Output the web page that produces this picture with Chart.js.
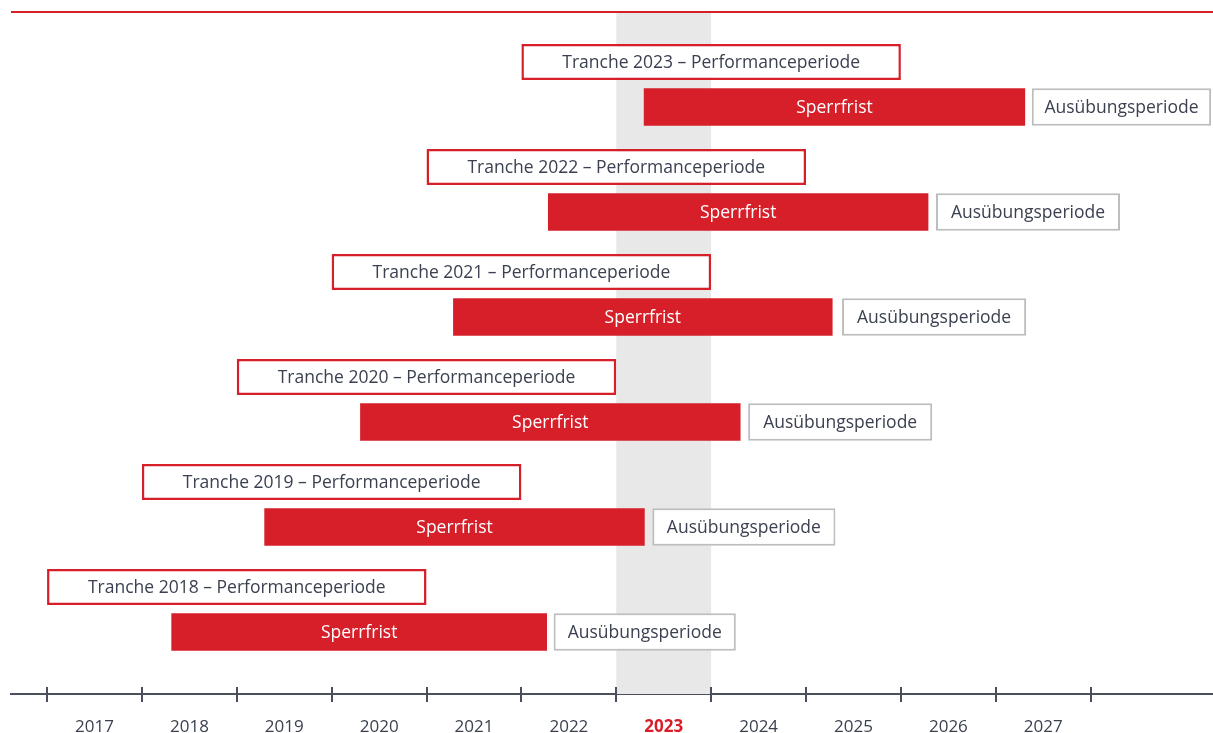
<!DOCTYPE html>
<html lang="de">
<head>
<meta charset="utf-8">
<title>Tranchen – Performanceperiode, Sperrfrist, Ausübungsperiode</title>
<script src="https://cdn.jsdelivr.net/npm/chart.js@4.4.1/dist/chart.umd.min.js"></script>
<style>
  html, body { margin: 0; padding: 0; background: #fff; }
  #wrap { width: 1213px; height: 733px; position: relative; }
</style>
</head>
<body>
<div id="wrap"><canvas id="chart"></canvas></div>
<script>
// Tranches, top to bottom
const trancheYears = [2023, 2022, 2021, 2020, 2019, 2018];

// Performance period (years, start/end)
const perfStart = [2022, 2021, 2020, 2019, 2018, 2017];
const perfEnd   = [2026, 2025, 2024, 2023, 2022, 2021];

// Sperrfrist (lock-up)
const lockStart = [2023.29, 2022.28, 2021.28, 2020.30, 2019.29, 2018.31];
const lockEnd   = [2027.31, 2026.29, 2025.28, 2024.31, 2023.30, 2022.27];

// Ausübungsperiode (exercise)
const exStart = [2027.38, 2026.37, 2025.38, 2024.39, 2023.38, 2022.34];
const exEnd   = [2029.27, 2028.31, 2027.32, 2026.33, 2025.31, 2024.26];

// x axis
const axisYears = [2017, 2018, 2019, 2020, 2021, 2022, 2023, 2024, 2025, 2026, 2027, 2028];
const currentYear = 2023;

const perfLabels = trancheYears.map(y => 'Tranche ' + y + ' – Performanceperiode');
const lockLabel = 'Sperrfrist';
const exLabel = 'Ausübungsperiode';

const RED = '#d71f2a';
const TEXT = '#3b4150';
const AXIS = '#4a4f5b';
const FONT = '"Open Sans", "Noto Sans", sans-serif';

const toRows = (starts, ends) => starts.map((s, i) => ({ x: [s, ends[i]], y: i }));

// gray band for current year + red top rule
const backdrop = {
  id: 'backdrop',
  beforeDatasetsDraw(chart) {
    const { ctx, chartArea: a, scales: { x } } = chart;
    const x0 = x.getPixelForValue(currentYear);
    const x1 = x.getPixelForValue(currentYear + 1);
    ctx.save();
    ctx.fillStyle = '#e8e8e8';
    ctx.fillRect(x0, a.top, x1 - x0, a.bottom - a.top);
    ctx.strokeStyle = RED;
    ctx.lineWidth = 1.8;
    ctx.beginPath();
    ctx.moveTo(a.left, a.top);
    ctx.lineTo(a.right, a.top);
    ctx.stroke();
    ctx.restore();
  },
  afterDraw(chart) {
    // tick marks also reach above the axis line
    const { ctx, chartArea: a, scales: { x } } = chart;
    ctx.save();
    ctx.strokeStyle = AXIS;
    ctx.lineWidth = 2;
    axisYears.forEach(v => {
      const px = Math.round(x.getPixelForValue(v));
      ctx.beginPath();
      ctx.moveTo(px, a.bottom - 7);
      ctx.lineTo(px, a.bottom);
      ctx.stroke();
    });
    ctx.restore();
  }
};

// text inside the bars
const barText = {
  id: 'barText',
  afterDatasetsDraw(chart) {
    const { ctx } = chart;
    ctx.save();
    ctx.font = '17.5px ' + FONT;
    ctx.textAlign = 'center';
    ctx.textBaseline = 'middle';
    chart.data.datasets.forEach((ds, di) => {
      chart.getDatasetMeta(di).data.forEach((el, i) => {
        const cx = (el.x + el.base) / 2;
        ctx.fillStyle = ds.textColor;
        ctx.fillText(ds.texts[i], cx, el.y + 1);
      });
    });
    ctx.restore();
  }
};

new Chart(document.getElementById('chart'), {
  type: 'bar',
  data: {
    datasets: [
      {
        label: 'Performanceperiode',
        data: toRows(perfStart, perfEnd),
        stack: 'perf',
        backgroundColor: '#ffffff',
        borderColor: RED,
        borderWidth: 2.5,
        borderSkipped: false,
        barPercentage: 0.8,
        texts: perfLabels,
        textColor: TEXT
      },
      {
        label: 'Sperrfrist',
        data: toRows(lockStart, lockEnd),
        stack: 'lock',
        backgroundColor: RED,
        borderWidth: 0,
        barPercentage: 0.834,
        texts: trancheYears.map(() => lockLabel),
        textColor: '#ffffff'
      },
      {
        label: 'Ausübungsperiode',
        data: toRows(exStart, exEnd),
        stack: 'lock',
        backgroundColor: '#ffffff',
        borderColor: '#bdbdbd',
        borderWidth: 2,
        borderSkipped: false,
        barPercentage: 0.834,
        texts: trancheYears.map(() => exLabel),
        textColor: TEXT
      }
    ]
  },
  options: {
    indexAxis: 'y',
    responsive: true,
    maintainAspectRatio: false,
    animation: false,
    layout: { padding: { top: 12, left: 11, right: 0, bottom: 0 } },
    datasets: { bar: { categoryPercentage: 0.857 } },
    plugins: {
      legend: { display: false },
      tooltip: { enabled: false }
    },
    scales: {
      x: {
        type: 'linear',
        min: 2016.62,
        max: 2029.29,
        stacked: false,
        afterBuildTicks: (scale) => { scale.ticks = axisYears.map(v => ({ value: v })); },
        afterFit: (scale) => { scale.height = 39; },
        border: { display: true, color: AXIS, width: 2 },
        grid: { drawOnChartArea: false, drawTicks: true, tickLength: 8, color: AXIS, lineWidth: 2 },
        ticks: {
          autoSkip: false,
          maxRotation: 0,
          padding: 15,
          labelOffset: 47.5,
          callback: (v) => (v < 2028 ? String(v) : ''),
          color: (c) => (c.tick && c.tick.value === currentYear ? RED : TEXT),
          font: (c) => ({
            family: FONT,
            size: 17,
            weight: c.tick && c.tick.value === currentYear ? 'bold' : 'normal'
          })
        }
      },
      y: {
        type: 'linear',
        reverse: true,
        offset: false,
        min: -0.69,
        max: 5.805,
        display: false,
        // one tick per tranche row keeps the bar band at a full row
        afterBuildTicks: (scale) => { scale.ticks = trancheYears.map((_, i) => ({ value: i })); }
      }
    }
  },
  plugins: [backdrop, barText]
});
</script>
</body>
</html>
